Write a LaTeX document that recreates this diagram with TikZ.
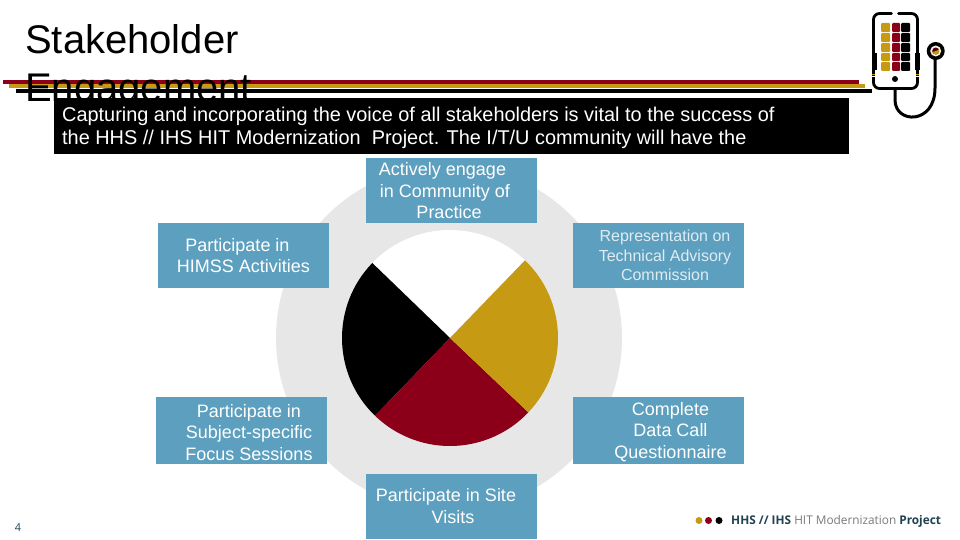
\documentclass[tikz,border=0pt]{standalone}
\usepackage{fontspec}
\setmainfont{Liberation Sans}
\newfontfamily\footfont[FakeStretch=.985]{Open Sans}
\definecolor{wred}{HTML}{8B0018}
\definecolor{wgold}{HTML}{C79A14}
\definecolor{wgray}{HTML}{E7E7E7}
\definecolor{wblue}{HTML}{5D9FBE}
\definecolor{footdark}{HTML}{1F4150}
\definecolor{footgray}{HTML}{77797B}
\tikzset{
  bluebox/.style={fill=wblue,text=white,minimum width=171pt,inner sep=0pt,align=center,font=\fontsize{18}{21.5}\selectfont},
  boxtext/.style={text=white,inner sep=0pt,align=center,font=\fontsize{18}{21.5}\selectfont},
  lightbox/.style={bluebox,text=white!80!wblue,font=\fontsize{16}{19.5}\selectfont},
  tile/.style={rounded corners=1pt},
  rim/.style={line width=2.8pt,line cap=round}
}
\begin{document}
\begin{tikzpicture}[x=1pt,y=-1pt]
    \useasboundingbox (0,0) rectangle (960,540);
    % header bars
    \fill[wred] (3,80) rectangle (859,84);
    \fill[wgold] (9,84) rectangle (865,88);
    \fill[black] (16,89) rectangle (872,93);
    \node[anchor=base west,inner sep=0pt,align=left,font=\fontsize{40}{48.5}\selectfont] (title) at (25,102) {Stakeholder\\Engagement};
    \fill[black] (54,98) rectangle (849,154);
    \node[anchor=base west,inner sep=0pt,text=white,align=left,font=\fontsize{19.9}{23.2}\selectfont] (intro) at (62,145) {Capturing and incorporating the voice of all stakeholders is vital to the success of\\the HHS // IHS HIT Modernization\ \ Project. The I/T/U community will have the};
    % wheel
    \fill[wgray] (449,338) circle (173);
    \coordinate (hub) at (450,338);
    \fill[white] (hub) -- +(-46:108) arc (-46:-136:108) -- cycle;
    \fill[black] (hub) -- +(-136:108) arc (-136:-226:108) -- cycle;
    \fill[wred] (hub) -- +(-226:108) arc (-226:-316.5:108) -- cycle;
    \fill[wgold] (hub) -- +(43.5:108) arc (43.5:-46:108) -- cycle;
    % boxes
    \node[bluebox,minimum height=65pt] (practice) at (451.5,190.5) {};
    \node[boxtext] (practicetext) at (444,191) {\hspace*{-3pt}Actively engage\\\hspace*{2pt}in Community of\\\ \ Practice};
    \node[bluebox,minimum height=65pt] (himss) at (243.5,255.5) {\hspace*{-12pt}Participate in\\HIMSS Activities};
    \node[lightbox,minimum height=65pt] (tac) at (658.5,255.5) {\hspace*{13pt}Representation on\\\hspace*{13pt}Technical Advisory\\\hspace*{13pt}Commission};
    \node[bluebox,minimum height=67pt] (subject) at (241.5,430.5) {};
    \node[boxtext] (subjecttext) at (249,432.5) {Participate in\\Subject-specific\\Focus Sessions};
    \node[bluebox,minimum height=67pt] (datacall) at (658.5,430.5) {};
    \node[boxtext] (datacalltext) at (670.5,432) {Complete\\Data Call\\Questionnaire};
    \node[bluebox,minimum height=65pt] (site) at (451.5,506.5) {};
    \node[boxtext] (sitetext) at (446,506) {Participate in Site\\\hspace*{14pt}Visits};
    % phone and stethoscope
    \draw[rim,rounded corners=6pt] (891.5,13.5) -- (873.5,13.5) -- (873.5,88.5) -- (917.5,88.5) -- (917.5,13.5) -- (898.5,13.5);
    \fill[black] (871.5,53) rectangle (876.5,70);
    \fill[black] (915,53) rectangle (920,70);
    \fill[wgold] (872,74) rectangle (875,75);
    \fill[white] (872,76.5) rectangle (875,77.5);
    \fill[wgold] (916,74) rectangle (919,75);
    \fill[white] (916,76.5) rectangle (919,77.5);
    \fill[wgold,tile] (881,23) rectangle (890,32);
    \fill[wred,tile] (892,23) rectangle (900,32);
    \fill[black,tile] (901,23) rectangle (910,32);
    \fill[wgold,tile] (881,33) rectangle (890,42);
    \fill[wred,tile] (892,33) rectangle (900,42);
    \fill[black,tile] (901,33) rectangle (910,42);
    \fill[wgold,tile] (881,43) rectangle (890,52);
    \fill[wred,tile] (892,43) rectangle (900,52);
    \fill[black,tile] (901,43) rectangle (910,52);
    \fill[wgold,tile] (881,53) rectangle (890,61);
    \fill[wred,tile] (892,53) rectangle (900,61);
    \fill[black,tile] (901,53) rectangle (910,61);
    \fill[wgold,tile] (881,62) rectangle (890,71);
    \fill[wred,tile] (892,62) rectangle (900,71);
    \fill[black,tile] (901,62) rectangle (910,71);
    \fill[black] (895,79) circle (3);
    \draw[line width=3pt] (895,89) -- (895,100) .. controls (895,124) and (935,125) .. (935,88) -- (935,58);
    \fill[black] (935.7,51) circle (9);
    \fill[white!85!wgold] (935.7,51) circle (5.5);
    \fill[wred!60!black] (935.7,51) circle (3.5);
    \fill[wgold] (935.7,51) -- +(-20:3.5) arc (-20:160:3.5) -- cycle;
    % footer
    \node[font=\fontsize{11}{13}\selectfont\footfont,text=footdark,inner sep=0pt] (pagenum) at (18,528) {4};
    \fill[wgold] (699,520.5) circle (3.5);
    \fill[wred] (708.5,520.5) circle (3.5);
    \fill[black] (719,520.5) circle (3.5);
    \node[anchor=base west,inner sep=0pt,font=\fontsize{12}{14}\selectfont\footfont\bfseries,text=footdark] (project) at (731,524) {HHS // IHS \textcolor{footgray}{\mdseries HIT Modernization} Project};
\end{tikzpicture}
\end{document}
